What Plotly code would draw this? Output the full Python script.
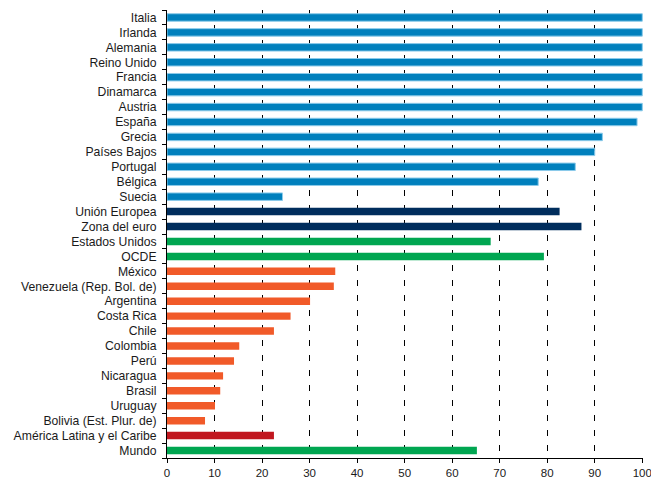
import plotly.graph_objects as go

categories = [
    "Italia", "Irlanda", "Alemania", "Reino Unido", "Francia", "Dinamarca",
    "Austria", "España", "Grecia", "Países Bajos", "Portugal", "Bélgica",
    "Suecia", "Unión Europea", "Zona del euro", "Estados Unidos", "OCDE",
    "México", "Venezuela (Rep. Bol. de)", "Argentina", "Costa Rica", "Chile",
    "Colombia", "Perú", "Nicaragua", "Brasil", "Uruguay",
    "Bolivia (Est. Plur. de)", "América Latina y el Caribe", "Mundo",
]
values = [
    100, 100, 100, 100, 100, 100,
    100, 98.9, 91.6, 90.0, 85.9, 78.1,
    24.3, 82.6, 87.2, 68.1, 79.3,
    35.4, 35.1, 30.1, 26.0, 22.5,
    15.2, 14.1, 11.8, 11.2, 10.1,
    8.0, 22.5, 65.2,
]
groups = (["europe"] * 13 + ["eu"] * 2 + ["oecd"] * 2 + ["latam"] * 11
          + ["alc"] + ["world"])
x_ticks = [0, 10, 20, 30, 40, 50, 60, 70, 80, 90, 100]

fill = {"europe": "#0080BD", "eu": "#002D5C", "oecd": "#00A651",
        "latam": "#F15A29", "alc": "#C1171F", "world": "#00A651"}
outline = {"europe": "#8CCBEA"}

fig = go.Figure(go.Bar(
    y=categories,
    x=values,
    orientation="h",
    width=0.5,
    marker=dict(
        color=[fill[g] for g in groups],
        line=dict(color=[outline.get(g, fill[g]) for g in groups],
                  width=[1 if g == "europe" else 0 for g in groups]),
    ),
    hoverinfo="x+y",
))

fig.update_layout(
    width=651, height=481,
    margin=dict(l=167, r=8, t=10, b=23),
    paper_bgcolor="white", plot_bgcolor="white",
    font=dict(family="Liberation Sans, Arial, sans-serif", size=12, color="#1a1a1a"),
    showlegend=False,
    bargap=0.5,
)
fig.update_xaxes(
    range=[0, 100.15], tickvals=x_ticks, ticks="outside", ticklen=4,
    tickcolor="black", showline=True, linecolor="black", linewidth=1,
    showgrid=True, gridcolor="black", gridwidth=1, griddash="6px,9px",
    zeroline=False, tickfont=dict(size=11.5), fixedrange=True,
    automargin=False, ticklabeloverflow="allow",
)
fig.update_yaxes(
    categoryorder="array", categoryarray=categories,
    tickmode="array", tickvals=categories,
    range=[len(categories) - 0.5, -0.5],
    ticks="outside", ticklen=4, tickcolor="black", tickson="boundaries",
    showline=True, linecolor="black", linewidth=1, showgrid=False,
    tickfont=dict(size=12.2), ticklabelstandoff=7, fixedrange=True,
    automargin=False,
)

fig.write_html(
    "out.html",
    config={"displayModeBar": False},
    post_script="document.body.style.margin='0px';",
)
